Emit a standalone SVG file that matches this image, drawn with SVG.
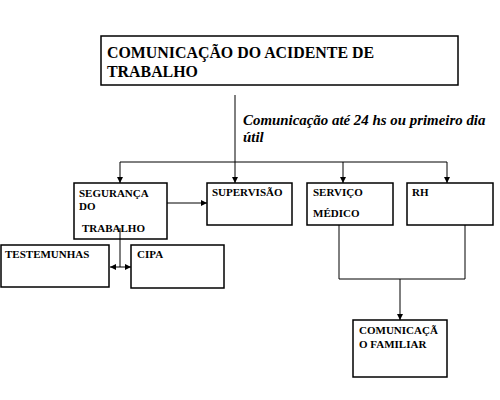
<svg xmlns="http://www.w3.org/2000/svg" width="500" height="400" viewBox="0 0 500 400">
<defs>
<marker id="ah" viewBox="0 0 6 6" refX="6" refY="3" markerWidth="6" markerHeight="6" orient="auto" markerUnits="userSpaceOnUse">
<path d="M0,0 L6,3 L0,6 Z" fill="#000"/>
</marker>
</defs>
<rect width="500" height="400" fill="#fff"/>
<g id="connectors" fill="none" stroke="#000" stroke-width="1">
<line x1="235" y1="95" x2="235" y2="162"/>
<line x1="120" y1="162" x2="447" y2="162"/>
<line x1="120" y1="162" x2="120" y2="183" marker-end="url(#ah)"/>
<line x1="235" y1="162" x2="235" y2="183" marker-end="url(#ah)"/>
<line x1="343" y1="162" x2="343" y2="183" marker-end="url(#ah)"/>
<line x1="447" y1="162" x2="447" y2="183" marker-end="url(#ah)"/>
<line x1="167" y1="203" x2="207" y2="203" marker-end="url(#ah)"/>
<line x1="339" y1="225" x2="339" y2="279"/>
<line x1="465" y1="225" x2="465" y2="279"/>
<line x1="339" y1="279" x2="465" y2="279"/>
<line x1="400" y1="279" x2="400" y2="320" marker-end="url(#ah)"/>
</g>
<g id="title">
<rect x="101" y="36" width="357" height="49" fill="#fff" stroke="#000" stroke-width="1.5"/>
<text font-family="Liberation Serif" font-weight="bold" font-size="15.9" x="107" y="58">COMUNICAÇÃO DO ACIDENTE DE</text>
<text font-family="Liberation Serif" font-weight="bold" font-size="15.9" x="107" y="77">TRABALHO</text>
</g>
<g id="label">
<text font-family="Liberation Serif" font-weight="bold" font-style="italic" font-size="14.9" x="243" y="125">Comunicação até 24 hs ou primeiro dia</text>
<text font-family="Liberation Serif" font-weight="bold" font-style="italic" font-size="14.9" x="243" y="142">útil</text>
</g>
<g id="seguranca">
<rect x="74" y="183" width="93" height="56" fill="#fff" stroke="#000" stroke-width="1.5"/>
<text font-family="Liberation Serif" font-weight="bold" font-size="11" x="79" y="197">SEGURANÇA</text>
<text font-family="Liberation Serif" font-weight="bold" font-size="11" x="79" y="210">DO</text>
<text font-family="Liberation Serif" font-weight="bold" font-size="11" x="82" y="232">TRABALHO</text>
</g>
<g id="supervisao">
<rect x="207" y="183" width="85" height="42" fill="#fff" stroke="#000" stroke-width="1.5"/>
<text font-family="Liberation Serif" font-weight="bold" font-size="11" x="212" y="196">SUPERVISÃO</text>
</g>
<g id="servico">
<rect x="307" y="183" width="86" height="42" fill="#fff" stroke="#000" stroke-width="1.5"/>
<text font-family="Liberation Serif" font-weight="bold" font-size="11" x="313" y="196">SERVIÇO</text>
<text font-family="Liberation Serif" font-weight="bold" font-size="11" x="313" y="217">MÉDICO</text>
</g>
<g id="rh">
<rect x="407" y="183" width="86" height="42" fill="#fff" stroke="#000" stroke-width="1.5"/>
<text font-family="Liberation Serif" font-weight="bold" font-size="11" x="412" y="196">RH</text>
</g>
<g id="testemunhas">
<rect x="1" y="245" width="108" height="42" fill="#fff" stroke="#000" stroke-width="1.5"/>
<text font-family="Liberation Serif" font-weight="bold" font-size="11" x="5" y="258">TESTEMUNHAS</text>
</g>
<g id="cipa">
<rect x="131" y="245" width="93" height="43" fill="#fff" stroke="#000" stroke-width="1.5"/>
<text font-family="Liberation Serif" font-weight="bold" font-size="11" x="137" y="258">CIPA</text>
</g>
<g id="familiar">
<rect x="353" y="320" width="94" height="57" fill="#fff" stroke="#000" stroke-width="1.5"/>
<text font-family="Liberation Serif" font-weight="bold" font-size="11" x="359" y="334">COMUNICAÇÃ</text>
<text font-family="Liberation Serif" font-weight="bold" font-size="11" x="359" y="348">O FAMILIAR</text>
</g>
<g id="connectors2" fill="none" stroke="#000" stroke-width="1">
<line x1="120" y1="228" x2="120" y2="267"/>
<line x1="120" y1="267" x2="110" y2="267" marker-end="url(#ah)"/>
<line x1="120" y1="267" x2="131" y2="267" marker-end="url(#ah)"/>
</g>
</svg>
